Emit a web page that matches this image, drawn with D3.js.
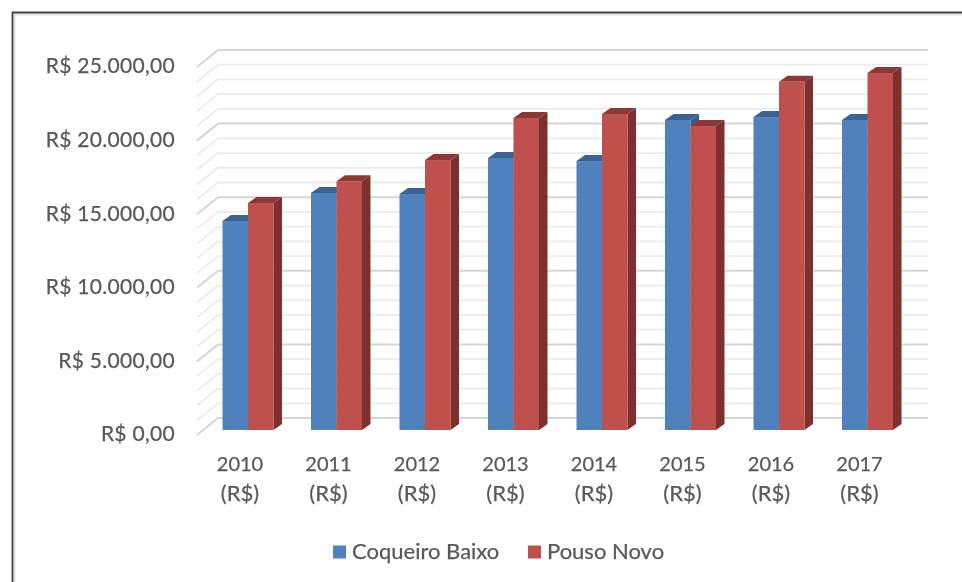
<!DOCTYPE html>
<html><head><meta charset="utf-8">
<script src="https://cdn.jsdelivr.net/npm/d3@7"></script>
<style>html,body{margin:0;padding:0;background:#fff;overflow:hidden}svg{display:block}text{font-family:Lato,"Open Sans",sans-serif;fill:#595959;stroke:#595959;stroke-width:.25px}</style>
</head><body><div id="c"></div>
<script>
const years = ["2010","2011","2012","2013","2014","2015","2016","2017"];
const coqueiroBaixo = [14200,16100,16030,18480,18270,21060,21260,21060];
const pousoNovo = [15420,16900,18340,21200,21470,20650,23660,24250];
const seriesNames = ["Coqueiro Baixo","Pouso Novo"];
const yMajor = [0,5000,10000,15000,20000,25000];
const yMinor = d3.range(0,25001,1000);
const tickLabel = v => "R$ " + d3.format(",.2f")(v).replace(/,/g,"#").replace(".",",").replace(/#/g,".");

const W=962,H=582,dx=8.5,dy=6;
const svg=d3.select("#c").append("svg").attr("width",W).attr("height",H);
svg.append("rect").attr("width",W).attr("height",H).attr("fill","#fff");
// frame
svg.append("path").attr("d","M14.5,590V14.5H970").attr("fill","none").attr("stroke","#e4e4e4").attr("stroke-width",2);
svg.append("path").attr("d","M12.5,590V12.5H970").attr("fill","none").attr("stroke","#404040").attr("stroke-width",1.8);

const y=d3.scaleLinear().domain([0,25000]).range([430,62]);
const x=d3.scaleBand().domain(years).range([222.5,222.5+88.5*8]).paddingInner(0).paddingOuter(0);
const barW=25.5;
const g=svg.append("g").style("filter","blur(0.45px)");

// gridlines
const line=(v,col,w)=>g.append("path")
  .attr("d",`M197,${y(v)+5}L218,${y(v)-12}H928`)
  .attr("fill","none").attr("stroke",col).attr("stroke-width",w);
yMinor.filter(v=>!yMajor.includes(v)).forEach(v=>line(v,"#ececec",1.8));
yMajor.forEach(v=>line(v,"#d6d6d6",2));

// bars
const colors=[{f:"#4f81bd",t:"#3b6391",s:"#375e8c"},{f:"#c0504d",t:"#8c3836",s:"#7d302e"}];
function bar(x0,v,c){
  const t=y(v),b=y(0),r=x0+barW;
  const k=g.append("g");
  k.append("path").attr("d",`M${r},${t}L${r+dx},${t-dy}V${b-dy}L${r},${b}Z`).attr("fill",c.s);
  k.append("path").attr("d",`M${x0},${t}L${x0+dx},${t-dy}H${r+dx}L${r},${t}Z`).attr("fill",c.t);
  k.append("rect").attr("x",x0).attr("y",t).attr("width",barW).attr("height",b-t).attr("fill",c.f);
}
years.forEach((yr,i)=>{
  bar(x(yr),coqueiroBaixo[i],colors[0]);
  bar(x(yr)+barW,pousoNovo[i],colors[1]);
});

// y axis labels
g.selectAll(".yl").data(yMajor).join("text").attr("class","yl")
  .attr("x",175).attr("y",v=>y(v)+4).attr("dy","0.35em").attr("text-anchor","end")
  .attr("font-size",21).attr("letter-spacing",0.3).text(tickLabel);

// x axis labels
years.forEach(yr=>{
  const cx=x(yr)+17.5;
  g.append("text").attr("x",cx).attr("y",471).attr("text-anchor","middle").attr("font-size",20).text(yr);
  g.append("text").attr("x",cx).attr("y",501).attr("text-anchor","middle").attr("font-size",22).text("(R$)");
});

// legend
const lx=[333,528];
seriesNames.forEach((n,i)=>{
  g.append("rect").attr("x",lx[i]).attr("y",545.5).attr("width",13).attr("height",13).attr("fill",colors[i].f);
  g.append("text").attr("x",lx[i]+19).attr("y",559).attr("font-size",22).text(n);
});
</script></body></html>
